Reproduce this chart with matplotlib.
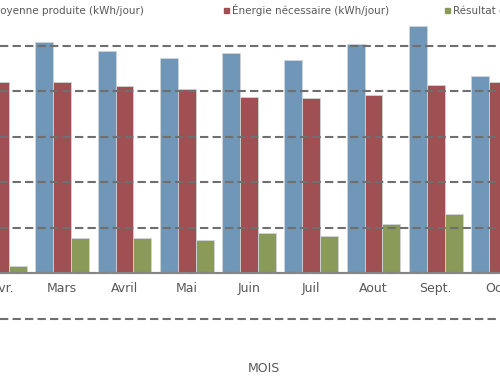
import matplotlib
matplotlib.use("Agg")
import matplotlib.pyplot as plt
from matplotlib.patches import Rectangle
import numpy as np

# Values in kWh/jour (one dashed step = 1)
MONTHS = ["Févr.", "Mars", "Avril", "Mai", "Juin", "Juil", "Aout", "Sept.", "Oct."]
PRODUITE = [4.39, 5.08, 4.88, 4.73, 4.85, 4.68, 5.05, 5.44, 4.34]
NECESSAIRE = [4.21, 4.21, 4.11, 4.04, 3.88, 3.85, 3.91, 4.14, 4.21]
RESULTAT = [0.17, 0.78, 0.78, 0.73, 0.89, 0.82, 1.08, 1.30, 0.12]

LEGEND = [
    "Énergie moyenne produite (kWh/jour)",
    "Énergie nécessaire (kWh/jour)",
    "Résultat de production (kWh/jour)",
]

BLUE = "#7096b8"
RED = "#a04f52"
GREEN = "#8a9a58"
TEXT = "#595959"
GRID = "#6f6f6f"

W, H = 500, 380
fig = plt.figure(figsize=(W / 100, H / 100), dpi=100)
fig.patch.set_facecolor("white")
ax = fig.add_axes([0, 0, 1, 1])

x = np.arange(len(MONTHS))
bw = 18 / 62.5
edge = dict(edgecolor="#d0d4d8", linewidth=0.6)
ax.bar(x - bw, PRODUITE, bw, color=BLUE, **edge)
ax.bar(x, NECESSAIRE, bw, color=RED, **edge)
ax.bar(x + bw, RESULTAT, bw, color=GREEN, **edge)

ax.set_xlim(2 / 62.5, 502 / 62.5)
ax.set_ylim(-(H - 273.3) / 45.5, 273.3 / 45.5)

# dashed gridlines sit on top of the bars, as in the original
ax.set_yticks(np.arange(-1, 6))
ax.tick_params(axis="y", left=False, labelleft=False)
ax.set_axisbelow(False)
ax.grid(axis="y", color=GRID, linewidth=1.5, linestyle=(0, (4, 2)))
ax.grid(axis="x", visible=False)

for s in ("top", "right", "left"):
    ax.spines[s].set_visible(False)
ax.spines["bottom"].set_position(("data", 0))
ax.spines["bottom"].set_color("#858585")
ax.spines["bottom"].set_linewidth(1.5)
ax.spines["bottom"].set_zorder(3)

ax.set_xticks(x)
ax.set_xticklabels(MONTHS)
ax.tick_params(axis="x", length=0, pad=6, labelsize=9, labelcolor=TEXT)
ax.set_facecolor("none")

# legend row across the top, partly cut by the frame like the reference
ly = 1 - 10.5 / H
fs = 7.5
fig.text(144 / W, ly, LEGEND[0], ha="right", va="center", fontsize=fs, color=TEXT)
for x0, label, col in [(224, LEGEND[1], RED), (445, LEGEND[2], GREEN)]:
    fig.add_artist(Rectangle((x0 / W, 1 - 13 / H), 5 / W, 5 / H,
                             transform=fig.transFigure, color=col))
    fig.text((x0 + 8) / W, ly, label, ha="left", va="center", fontsize=fs, color=TEXT)

fig.text(264 / W, 1 - 369 / H, "MOIS", ha="center", va="center", fontsize=9, color=TEXT)

fig.savefig("out.png", dpi=100)
